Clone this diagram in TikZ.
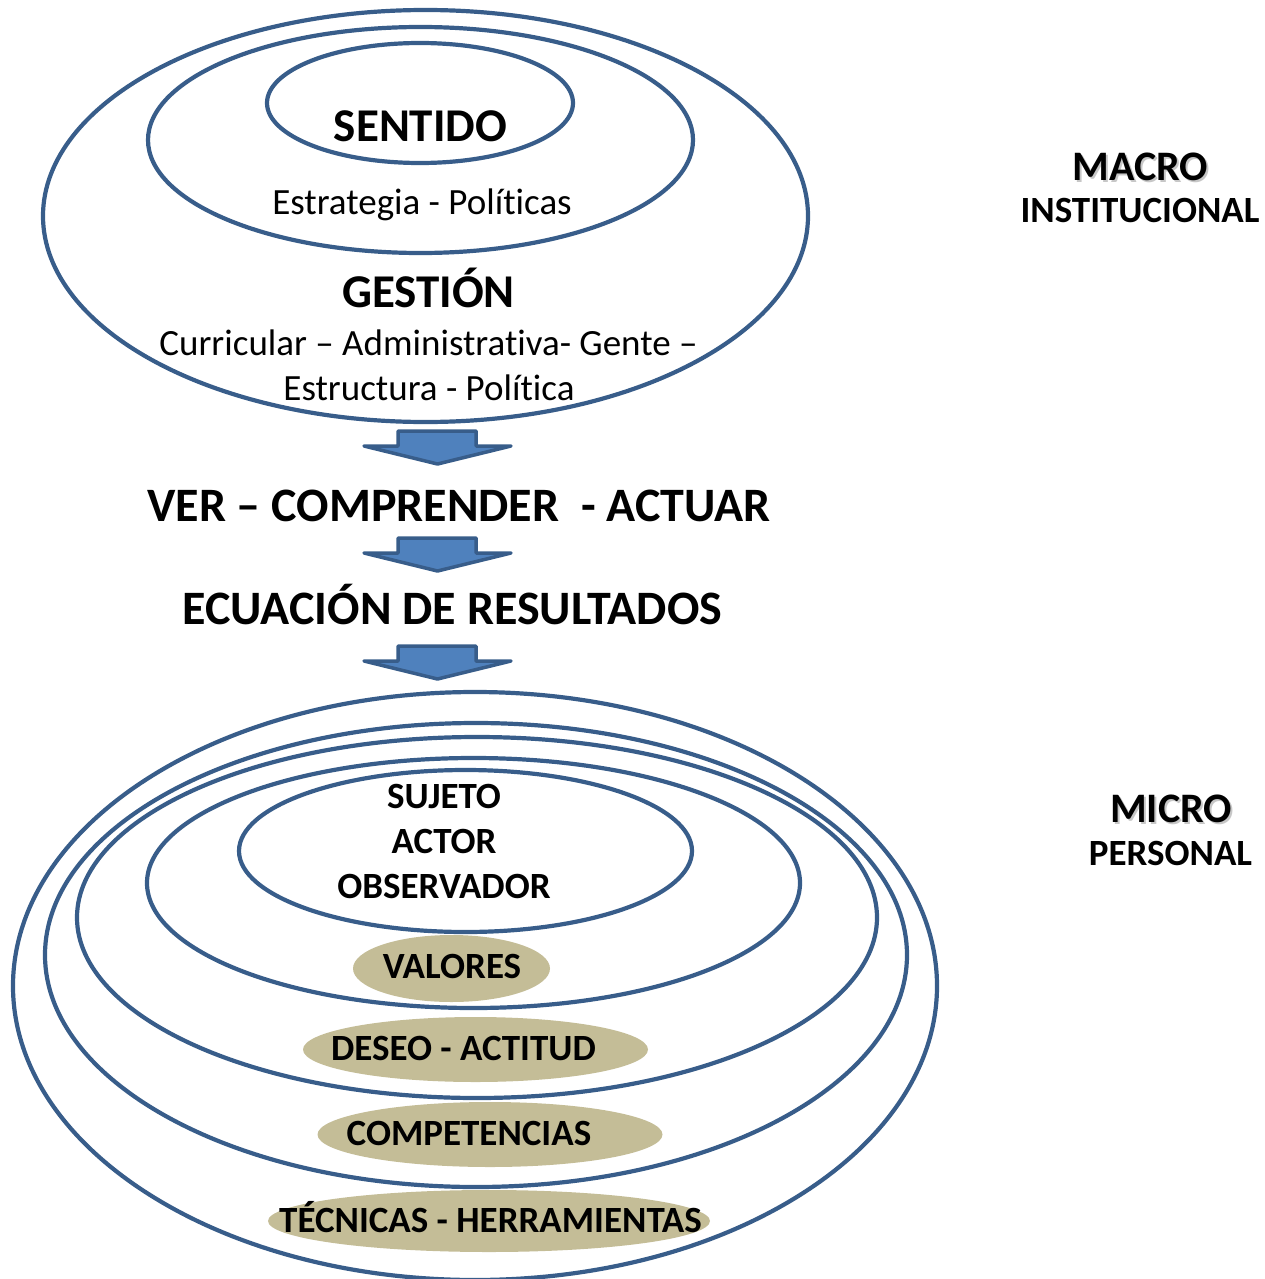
\documentclass[tikz,border=0pt]{standalone}
\usepackage{fontspec}
\setmainfont{Carlito}[Ligatures=NoCommon]
\definecolor{borde}{HTML}{385D8A}
\definecolor{relleno}{HTML}{4F81BD}
\definecolor{arena}{HTML}{C4BD97}

\begin{document}
\begin{tikzpicture}[x=1pt,y=-1pt,
  anillo/.style={draw=borde,line width=4.2pt},
  flecha/.style={draw=borde,fill=relleno,line width=3.5pt,line join=round},
  titulo/.style={anchor=base,font=\fontsize{47}{56}\selectfont\bfseries},
  texto/.style={anchor=base,font=\fontsize{37}{44}\selectfont},
  etiqueta/.style={anchor=base,font=\fontsize{37}{44}\selectfont\bfseries},
  nivel/.style={anchor=base,font=\fontsize{42}{50}\selectfont\bfseries},
  subnivel/.style={anchor=base,font=\fontsize{37}{44}\selectfont\bfseries},
  sombra/.style={text=black,opacity=0.22}]
\useasboundingbox (0,0) rectangle (1264,1279);

% nivel macro
\draw[anillo] (425.5,216) ellipse [x radius=382.5pt,y radius=206pt];
\draw[anillo] (420.5,140) ellipse [x radius=272.5pt,y radius=113pt];
\draw[anillo] (420,103) ellipse [x radius=153pt,y radius=60pt];

\node[titulo] (sentido) at (420.5,142) {SENTIDO};
\node[texto] (estrategia) at (422,214) {Estrategia - Políticas};
\node[titulo] (gestion) at (428.5,307) {GESTIÓN};
\node[texto] (curricular) at (428.5,355) {Curricular – Administrativa- Gente –};
\node[texto] (estructura) at (429,400) {Estructura - Política};

% flechas
\draw[flecha] (398,431) -- ++(78,0) -- ++(0,15) -- ++(35,0) -- ++(-73.5,18) -- ++(-73.5,-18) -- ++(34,0) -- cycle;
\draw[flecha] (398,538) -- ++(78,0) -- ++(0,15) -- ++(35,0) -- ++(-73.5,18) -- ++(-73.5,-18) -- ++(34,0) -- cycle;
\draw[flecha] (398,646) -- ++(78,0) -- ++(0,15) -- ++(35,0) -- ++(-73.5,18) -- ++(-73.5,-18) -- ++(34,0) -- cycle;

\node[titulo,font=\fontsize{48}{56}\selectfont\bfseries] (ver) at (459,521) {VER – COMPRENDER~ - ACTUAR};
\node[titulo,font=\fontsize{48}{56}\selectfont\bfseries] (ecuacion) at (452.5,624) {ECUACIÓN DE RESULTADOS};

% nivel micro
\draw[anillo] (475,986) ellipse [x radius=462pt,y radius=294pt];
\draw[anillo] (476,955) ellipse [x radius=431pt,y radius=232pt];
\draw[anillo] (477,917.5) ellipse [x radius=400pt,y radius=180.5pt];
\draw[anillo] (473.5,883) ellipse [x radius=326.5pt,y radius=125pt];
\draw[anillo] (465.5,851) ellipse [x radius=226.5pt,y radius=81pt];

\fill[arena] (451.5,968.5) ellipse [x radius=98.5pt,y radius=33.5pt];
\fill[arena] (475.5,1049.5) ellipse [x radius=172.5pt,y radius=32.5pt];
\fill[arena] (490,1134.5) ellipse [x radius=172.5pt,y radius=32.5pt];
\fill[arena] (489,1221) ellipse [x radius=221pt,y radius=31pt];

\node[etiqueta] (sujeto) at (444,808) {SUJETO};
\node[etiqueta] (actor) at (444,853) {ACTOR};
\node[etiqueta] (observador) at (444,898) {OBSERVADOR};
\node[etiqueta] (valores) at (452,978) {VALORES};
\node[etiqueta] (deseo) at (463.5,1060) {DESEO - ACTITUD};
\node[etiqueta] (competencias) at (469,1145) {COMPETENCIAS};
\node[etiqueta] (tecnicas) at (490.5,1232) {TÉCNICAS - HERRAMIENTAS};

% niveles a la derecha
\node[nivel,sombra] (macrosombra) at (1142.5,182) {MACRO};
\node[nivel] (macro) at (1140.5,180) {MACRO};
\node[subnivel] (institucional) at (1140,222) {INSTITUCIONAL};
\node[nivel,sombra] (microsombra) at (1173,824) {MICRO};
\node[nivel] (micro) at (1171,822) {MICRO};
\node[subnivel] (personal) at (1170.5,865) {PERSONAL};
\end{tikzpicture}
\end{document}
